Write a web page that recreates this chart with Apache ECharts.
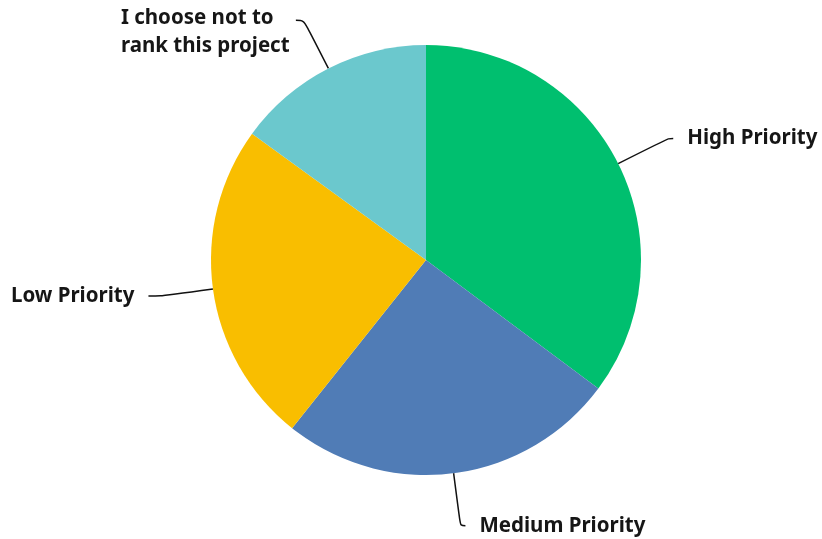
<!DOCTYPE html>
<html>
<head>
<meta charset="utf-8">
<script src="https://cdn.jsdelivr.net/npm/echarts@6/dist/echarts.min.js"></script>
<style>
  html, body { margin: 0; padding: 0; background: #ffffff; }
  #chart { width: 822px; height: 539px; }
</style>
</head>
<body>
<div id="chart"></div>
<script>
// Share of responses per ranking option (percent)
const categories = ['High Priority', 'Medium Priority', 'Low Priority', 'I choose not to rank this project'];
const values = [35.2, 25.5, 24.3, 15.0];
const colors = ['#00BF6F', '#507CB6', '#F9BE00', '#6BC8CD'];

// Leader line lengths per slice: [radial part, horizontal part]
const leaderLengths = [[56, 5], [53, 5], [53, 12], [54, 8]];

const chart = echarts.init(document.getElementById('chart'), null, { renderer: 'canvas' });

const labelFont = { fontFamily: 'Noto Sans', fontSize: 20.5, fontWeight: 'bold', color: '#161616' };

const data = categories.map((name, i) => {
  const item = {
    name: name,
    value: values[i],
    itemStyle: { color: colors[i] },
    labelLine: { length: leaderLengths[i][0], length2: leaderLengths[i][1] }
  };
  if (i === 3) {
    // two-line label, lines left-aligned within the block, first line level with the leader end
    item.label = {
      formatter: '{a|I choose not to}\n{a|rank this project}',
      distanceToLabelLine: 3,
      padding: [24, 0, 0, 0],
      rich: {
        a: Object.assign({ width: 172, align: 'left', lineHeight: 28 }, labelFont)
      }
    };
  }
  return item;
});

chart.setOption({
  animation: false,
  series: [{
    type: 'pie',
    center: [426, 260],
    radius: 215,
    startAngle: 90,
    clockwise: true,
    avoidLabelOverlap: false,
    emphasis: { disabled: true },
    label: Object.assign({
      show: true,
      position: 'outside',
      distanceToLabelLine: 14
    }, labelFont),
    labelLine: {
      show: true,
      smooth: 0.35,
      lineStyle: { color: '#111111', width: 1.5 }
    },
    data: data
  }]
});
</script>
</body>
</html>
